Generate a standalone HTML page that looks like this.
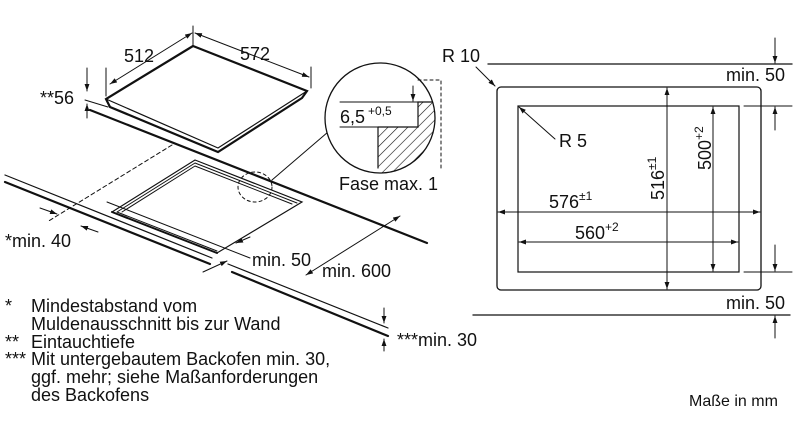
<!DOCTYPE html>
<html><head><meta charset="utf-8"><style>
html,body{margin:0;padding:0;background:#fff;}
svg{display:block;font-family:"Liberation Sans",Arial,sans-serif;}
text{fill:#111;}
</style></head><body>
<svg width="800" height="426" viewBox="0 0 800 426" xmlns="http://www.w3.org/2000/svg">
<defs>
<marker id="a" viewBox="0 0 10 10" refX="10" refY="5" markerWidth="7" markerHeight="7" orient="auto-start-reverse"><path d="M0,1.5 L10,5 L0,8.5 z" fill="#111"/></marker>
<pattern id="h" width="7" height="7" patternUnits="userSpaceOnUse" patternTransform="rotate(45)"><line x1="0" y1="0" x2="0" y2="7" stroke="#111" stroke-width="1.2"/></pattern>
<clipPath id="c"><circle cx="380" cy="118" r="55"/></clipPath>
</defs>
<g stroke="#111" fill="none" stroke-linecap="round">
<path d="M193,46 L307,91 L302,98 L218,152 L110,107 L106,99 Z" stroke-width="2.2" fill="#fff"/>
<path d="M106,99 L218,148 L307,91" stroke-width="1.2"/>
<path d="M90,110 L427,243" stroke-width="2.2"/>
<path d="M85,100 L108,107" stroke-width="1"/>
<path d="M5,175 L212,258 M228,264 L388,328" stroke-width="1.2"/>
<path d="M5,182 L210,264 M232,272 L388,336" stroke-width="2.2"/>
<path d="M107,202 L250,258" stroke-width="1"/>
<path d="M195,160 L302,202 L217,253 L112,212 Z" stroke-width="1.2"/>
<path d="M195,163 L297,203 M195,166 L292,204 M195,163 L117,212 M195,166 L122,212 M117,212 L217,251" stroke-width="1"/>
<path d="M112,212 L217,253" stroke-width="2"/>
<path d="M172,145 L47,222" stroke-dasharray="4,3" stroke-width="1"/>
<ellipse cx="255" cy="187" rx="17" ry="15" stroke-dasharray="3,3" stroke-width="1"/>
<line x1="272" y1="180" x2="328" y2="132" stroke-width="1"/>
<circle cx="380" cy="118" r="55" stroke-width="1.3" fill="#fff"/>
<path d="M418,102 L445,102 L445,180 L378,180 L378,127 L418,127 Z" fill="url(#h)" stroke="none" clip-path="url(#c)"/>
<path d="M378,127 L418,127 L418,102 L432,102 M378,127 L378,168" stroke-width="1.2"/>
<path d="M340,102 L418,102 M340,127 L378,127" stroke-width="1"/>
<path d="M418,80 L441,80 L441,170" stroke-dasharray="3,3" stroke-width="1"/>
<line x1="413" y1="86" x2="413" y2="101" marker-end="url(#a)" stroke-width="1"/>
<line x1="193" y1="26" x2="193" y2="45" stroke-width="1"/>
<line x1="106" y1="68" x2="106" y2="96" stroke-width="1"/>
<line x1="311" y1="67" x2="311" y2="88" stroke-width="1"/>
<line x1="110" y1="84" x2="192" y2="33" marker-start="url(#a)" marker-end="url(#a)" stroke-width="1"/>
<line x1="195" y1="33" x2="309" y2="77" marker-start="url(#a)" marker-end="url(#a)" stroke-width="1"/>
<line x1="87" y1="68" x2="87" y2="91" marker-end="url(#a)" stroke-width="1"/>
<line x1="87" y1="118" x2="87" y2="104" marker-end="url(#a)" stroke-width="1"/>
<line x1="40" y1="208" x2="57" y2="214" marker-end="url(#a)" stroke-width="1"/>
<line x1="98" y1="232" x2="81" y2="226" marker-end="url(#a)" stroke-width="1"/>
<line x1="250" y1="237" x2="236" y2="243" marker-end="url(#a)" stroke-width="1"/>
<line x1="203" y1="272" x2="227" y2="261" marker-end="url(#a)" stroke-width="1"/>
<line x1="400" y1="216" x2="306" y2="275" marker-start="url(#a)" marker-end="url(#a)" stroke-width="1"/>
<line x1="384" y1="308" x2="384" y2="323" marker-end="url(#a)" stroke-width="1"/>
<line x1="384" y1="351" x2="384" y2="339" marker-end="url(#a)" stroke-width="1"/>

<line x1="488" y1="64" x2="792" y2="64" stroke-width="1.3"/>
<line x1="473" y1="315" x2="790" y2="315" stroke-width="1.3"/>
<rect x="497" y="87" width="264" height="203" rx="4" stroke-width="1.3"/>
<rect x="518" y="106" width="221" height="166" stroke-width="1.2"/>
<line x1="744" y1="106" x2="792" y2="106" stroke-width="1"/>
<line x1="744" y1="272" x2="792" y2="272" stroke-width="1"/>
<line x1="775" y1="38" x2="775" y2="63" marker-end="url(#a)" stroke-width="1"/>
<line x1="775" y1="130" x2="775" y2="107" marker-end="url(#a)" stroke-width="1"/>
<line x1="775" y1="245" x2="775" y2="271" marker-end="url(#a)" stroke-width="1"/>
<line x1="775" y1="338" x2="775" y2="316" marker-end="url(#a)" stroke-width="1"/>
<line x1="498" y1="212" x2="760" y2="212" marker-start="url(#a)" marker-end="url(#a)" stroke-width="1"/>
<line x1="519" y1="242" x2="738" y2="242" marker-start="url(#a)" marker-end="url(#a)" stroke-width="1"/>
<line x1="667" y1="88" x2="667" y2="289" marker-start="url(#a)" marker-end="url(#a)" stroke-width="1"/>
<line x1="713" y1="107" x2="713" y2="271" marker-start="url(#a)" marker-end="url(#a)" stroke-width="1"/>
<line x1="476" y1="67" x2="495" y2="86" marker-end="url(#a)" stroke-width="1"/>
<line x1="555" y1="139" x2="519" y2="107" marker-end="url(#a)" stroke-width="1"/>
</g>
<g font-size="18">
<text x="124" y="62">512</text>
<text x="240" y="60">572</text>
<text x="40" y="104">**56</text>
<text x="340" y="123" font-size="18">6,5</text>
<text x="368" y="115" font-size="12">+0,5</text>
<text x="339" y="190">Fase max. 1</text>
<text x="5" y="247">*min. 40</text>
<text x="252" y="266">min. 50</text>
<text x="322" y="277">min. 600</text>
<text x="397" y="346">***min. 30</text>
<text x="5" y="312">*</text><text x="31" y="312">Mindestabstand vom</text>
<text x="31" y="330">Muldenausschnitt bis zur Wand</text>
<text x="5" y="348">**</text><text x="31" y="348">Eintauchtiefe</text>
<text x="5" y="365">***</text><text x="31" y="365">Mit untergebautem Backofen min. 30,</text>
<text x="31" y="383">ggf. mehr; siehe Maßanforderungen</text>
<text x="31" y="401">des Backofens</text>
<text x="442" y="62">R 10</text>
<text x="726" y="81">min. 50</text>
<text x="559" y="147">R 5</text>
<text x="549" y="208">576<tspan font-size="12" dy="-8">±1</tspan></text>
<text x="575" y="239">560<tspan font-size="12" dy="-8">+2</tspan></text>
<text transform="translate(664,200) rotate(-90)">516<tspan font-size="12" dy="-8">±1</tspan></text>
<text transform="translate(711,170) rotate(-90)">500<tspan font-size="12" dy="-8">+2</tspan></text>
<text x="726" y="309">min. 50</text>
<text x="689" y="406" font-size="16">Maße in mm</text>
</g>
</svg>
</body></html>
